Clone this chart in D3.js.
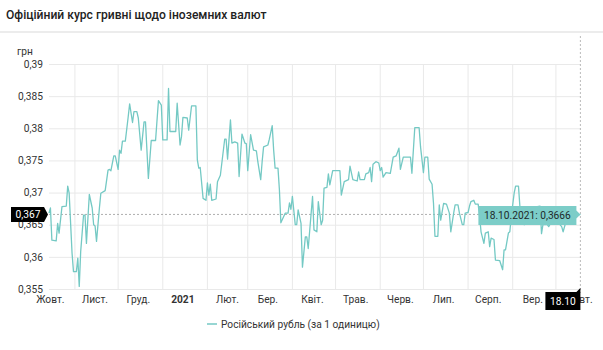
<!DOCTYPE html>
<html>
<head>
<meta charset="utf-8">
<script src="https://cdn.jsdelivr.net/npm/d3@7"></script>
<style>
  body { margin: 0; background: #fff; }
  svg { display: block; font-family: Roboto, "Noto Sans", sans-serif; }
</style>
</head>
<body>
<svg id="chart" width="603" height="350"></svg>
<script>
// Official NBU rate of the hryvnia to the Russian rouble, Oct 2020 – Oct 2021
const chartTitle = "Офіційний курс гривні щодо іноземних валют";
const unitLabel = "грн";
const seriesName = "Російський рубль (за 1 одиницю)";

const dates = [
  "2020-10-14","2020-10-15","2020-10-16","2020-10-19","2020-10-20","2020-10-21","2020-10-23","2020-10-26","2020-10-27","2020-10-28",
  "2020-10-30","2020-10-31","2020-11-02","2020-11-03","2020-11-04","2020-11-05","2020-11-07","2020-11-08","2020-11-09","2020-11-11",
  "2020-11-13","2020-11-14","2020-11-15","2020-11-16","2020-11-18","2020-11-19","2020-11-22","2020-11-24","2020-11-25","2020-11-26",
  "2020-11-28","2020-11-29","2020-12-01","2020-12-02","2020-12-03","2020-12-04","2020-12-06","2020-12-08","2020-12-09","2020-12-11",
  "2020-12-12","2020-12-14","2020-12-15","2020-12-17","2020-12-19","2020-12-20","2020-12-22","2020-12-24","2020-12-27","2020-12-29",
  "2020-12-31","2021-01-01","2021-01-04","2021-01-05","2021-01-06","2021-01-10","2021-01-11","2021-01-13","2021-01-14","2021-01-15",
  "2021-01-18","2021-01-19","2021-01-21","2021-01-24","2021-01-25","2021-01-26","2021-01-27","2021-01-29","2021-01-31","2021-02-01",
  "2021-02-02","2021-02-03","2021-02-04","2021-02-07","2021-02-08","2021-02-10","2021-02-13","2021-02-14","2021-02-15","2021-02-17",
  "2021-02-18","2021-02-20","2021-02-22","2021-02-23","2021-02-25","2021-02-27","2021-02-28","2021-03-01","2021-03-03","2021-03-05",
  "2021-03-07","2021-03-08","2021-03-10","2021-03-11","2021-03-12","2021-03-15","2021-03-16","2021-03-18","2021-03-19","2021-03-20",
  "2021-03-22","2021-03-23","2021-03-24","2021-03-27","2021-03-29","2021-03-30","2021-03-31","2021-04-01","2021-04-03","2021-04-04",
  "2021-04-05","2021-04-07","2021-04-08","2021-04-10","2021-04-11","2021-04-12","2021-04-15","2021-04-16","2021-04-18","2021-04-19",
  "2021-04-21","2021-04-22","2021-04-23","2021-04-25","2021-04-26","2021-04-27","2021-04-29","2021-05-04","2021-05-05","2021-05-07",
  "2021-05-10","2021-05-11","2021-05-13","2021-05-16","2021-05-17","2021-05-18","2021-05-21","2021-05-22","2021-05-24","2021-05-25",
  "2021-05-26","2021-05-27","2021-05-29","2021-05-31","2021-06-01","2021-06-02","2021-06-03","2021-06-05","2021-06-08","2021-06-10",
  "2021-06-12","2021-06-14","2021-06-15","2021-06-17","2021-06-22","2021-06-23","2021-06-25","2021-06-28","2021-06-29","2021-07-01",
  "2021-07-02","2021-07-04","2021-07-05","2021-07-07","2021-07-08","2021-07-09","2021-07-11","2021-07-12","2021-07-13","2021-07-15",
  "2021-07-17","2021-07-19","2021-07-20","2021-07-22","2021-07-23","2021-07-25","2021-07-26","2021-07-28","2021-07-29","2021-07-30",
  "2021-08-01","2021-08-02","2021-08-03","2021-08-05","2021-08-06","2021-08-08","2021-08-09","2021-08-10","2021-08-12","2021-08-13",
  "2021-08-15","2021-08-16","2021-08-17","2021-08-19","2021-08-20","2021-08-23","2021-08-25","2021-08-26","2021-08-27","2021-08-29",
  "2021-08-30","2021-08-31","2021-09-02","2021-09-03","2021-09-05","2021-09-06","2021-09-09","2021-09-11","2021-09-13","2021-09-15",
  "2021-09-18","2021-09-20","2021-09-21","2021-09-22","2021-09-25","2021-09-26","2021-09-28","2021-10-01","2021-10-03","2021-10-05",
  "2021-10-06","2021-10-08","2021-10-10","2021-10-12","2021-10-18"
];

const rates = [
  0.3668,0.3676,0.3626,0.3625,0.3652,0.3637,0.3678,0.3679,0.3710,0.3699,
  0.3606,0.3577,0.3577,0.3598,0.3554,0.3608,0.3665,0.3665,0.3621,0.3697,
  0.3676,0.3650,0.3648,0.3624,0.3676,0.3699,0.3703,0.3735,0.3736,0.3734,
  0.3757,0.3757,0.3736,0.3766,0.3761,0.3780,0.3780,0.3818,0.3838,0.3809,
  0.3826,0.3826,0.3816,0.3766,0.3810,0.3810,0.3722,0.3781,0.3781,0.3843,
  0.3836,0.3782,0.3782,0.3862,0.3795,0.3795,0.3839,0.3774,0.3787,0.3817,
  0.3816,0.3797,0.3835,0.3835,0.3751,0.3738,0.3739,0.3691,0.3688,0.3715,
  0.3696,0.3713,0.3688,0.3690,0.3717,0.3727,0.3783,0.3783,0.3752,0.3813,
  0.3777,0.3779,0.3777,0.3725,0.3791,0.3777,0.3776,0.3734,0.3790,0.3766,
  0.3765,0.3748,0.3720,0.3748,0.3771,0.3774,0.3783,0.3804,0.3766,0.3738,
  0.3738,0.3704,0.3653,0.3668,0.3668,0.3684,0.3674,0.3694,0.3650,0.3650,
  0.3673,0.3652,0.3584,0.3631,0.3631,0.3613,0.3694,0.3642,0.3639,0.3686,
  0.3650,0.3657,0.3707,0.3708,0.3729,0.3712,0.3734,0.3734,0.3696,0.3717,
  0.3720,0.3741,0.3720,0.3718,0.3732,0.3720,0.3720,0.3729,0.3731,0.3739,
  0.3717,0.3744,0.3748,0.3746,0.3734,0.3739,0.3724,0.3731,0.3730,0.3755,
  0.3757,0.3769,0.3736,0.3755,0.3755,0.3730,0.3801,0.3801,0.3771,0.3731,
  0.3755,0.3755,0.3721,0.3713,0.3683,0.3632,0.3632,0.3681,0.3657,0.3683,
  0.3682,0.3668,0.3639,0.3668,0.3681,0.3681,0.3668,0.3650,0.3650,0.3668,
  0.3669,0.3679,0.3686,0.3688,0.3682,0.3682,0.3663,0.3639,0.3621,0.3637,
  0.3639,0.3616,0.3629,0.3627,0.3595,0.3594,0.3580,0.3611,0.3611,0.3637,
  0.3639,0.3663,0.3699,0.3710,0.3710,0.3678,0.3650,0.3663,0.3668,0.3671,
  0.3678,0.3679,0.3636,0.3650,0.3650,0.3647,0.3655,0.3657,0.3652,0.3647,
  0.3639,0.3655,0.3660,0.3662,0.3666
];

const yTicks = [0.355, 0.36, 0.365, 0.37, 0.375, 0.38, 0.385, 0.39];
const monthStarts = ["2020-10-01","2020-11-01","2020-12-01","2021-01-01","2021-02-01","2021-03-01",
                     "2021-04-01","2021-05-01","2021-06-01","2021-07-01","2021-08-01","2021-09-01","2021-10-01"];
const monthLabels = ["Жовт.","Лист.","Груд.","2021","Лют.","Бер.","Квіт.","Трав.","Черв.","Лип.","Серп.","Вер.","Жовт."];
const yearLabels = ["2021"];

const parse = d3.utcParse("%Y-%m-%d");
const data = dates.map((d, i) => ({ date: parse(d), value: rates[i] }));
const last = data[data.length - 1];

const uaLocale = d3.formatLocale({ decimal: ",", thousands: " ", grouping: [3], currency: ["", " грн"] });
const fmtTick = uaLocale.format(".3~f");
const fmtBadge = uaLocale.format(".3f");
const fmtValue = uaLocale.format(".4f");
const fmtDay = d3.utcFormat("%d.%m");
const fmtFull = d3.utcFormat("%d.%m.%Y");

const svg = d3.select("#chart");
const plot = { left: 49, right: 580.4, top: 64, bottom: 289 };

const x = d3.scaleUtc()
  .domain([data[0].date, last.date])
  .range([plot.left, plot.right]);
const y = d3.scaleLinear()
  .domain([0.355, 0.39])
  .range([plot.bottom, plot.top]);

const lineColor = "#74c9c4";
const textColor = "#333";
const fs = 10.2;

// header
svg.append("text")
  .attr("x", 6).attr("y", 19)
  .attr("font-size", 12.1).attr("font-weight", 500).attr("fill", "#222")
  .text(chartTitle);
svg.append("rect")
  .attr("x", 0).attr("y", 31).attr("width", 603).attr("height", 2)
  .attr("fill", "#ececec");

// unit label
svg.append("text")
  .attr("x", 17).attr("y", 55)
  .attr("font-size", fs).attr("fill", textColor)
  .text(unitLabel);

// horizontal grid + y labels
const yAxis = d3.axisLeft(y).tickValues(yTicks).tickFormat(fmtTick)
  .tickSize(-(plot.right - plot.left)).tickPadding(6);
const gy = svg.append("g").attr("transform", `translate(${plot.left},0)`).call(yAxis);
gy.select(".domain").remove();
gy.selectAll(".tick line").attr("stroke", "#e9e9e9");
gy.selectAll(".tick text").attr("font-size", fs).attr("fill", textColor)
  .attr("font-family", "Roboto, sans-serif");

// vertical grid at month starts
const monthDates = monthStarts.map(parse);
const gridDates = monthDates.filter(d => d > data[0].date && d < last.date);
svg.append("g").selectAll("line").data(gridDates).join("line")
  .attr("x1", d => x(d)).attr("x2", d => x(d))
  .attr("y1", plot.top).attr("y2", plot.bottom)
  .attr("stroke", "#e9e9e9");

// month labels centred in mid-month
const labelDates = monthDates.map(d => d3.utcDay.offset(d, 15));
svg.append("g").selectAll("text").data(monthLabels).join("text")
  .attr("x", (d, i) => x(labelDates[i]) - (i === monthLabels.length - 1 ? -1 : 1.5))
  .attr("y", 303)
  .attr("text-anchor", "middle")
  .attr("font-size", fs)
  .attr("font-weight", d => yearLabels.includes(d) ? 700 : 400)
  .attr("fill", textColor)
  .text(d => d);

// crosshair at latest value
svg.append("line")
  .attr("x1", plot.left).attr("x2", x(last.date))
  .attr("y1", y(last.value)).attr("y2", y(last.value))
  .attr("stroke", "#999").attr("stroke-width", 0.8).attr("stroke-dasharray", "2,2");
svg.append("line")
  .attr("x1", x(last.date)).attr("x2", x(last.date))
  .attr("y1", 36).attr("y2", plot.bottom + 4)
  .attr("stroke", "#aaa").attr("stroke-width", 0.8).attr("stroke-dasharray", "2,2");

// series line
const line = d3.line().x(d => x(d.date)).y(d => y(d.value));
svg.append("path").datum(data)
  .attr("d", line)
  .attr("fill", "none")
  .attr("stroke", lineColor)
  .attr("stroke-width", 1.3)
  .attr("stroke-linejoin", "round");

// tooltip
const ty = y(last.value);
const tx = x(last.date);
const tip = svg.append("g");
tip.append("path")
  .attr("d", `M${tx - 102},${ty - 8.5} H${tx - 4} V${ty - 4} L${tx},${ty} L${tx - 4},${ty + 4} V${ty + 10.5} H${tx - 102} Z`)
  .attr("fill", "#7ccdc8");
tip.append("text")
  .attr("x", tx - 53).attr("y", ty + 5)
  .attr("text-anchor", "middle").attr("font-size", fs).attr("fill", "#1e2a2a")
  .text(`${fmtFull(last.date)}: ${fmtValue(last.value)}`);

// y badge
const yb = svg.append("g");
yb.append("path")
  .attr("d", `M11,${ty - 7.5} H44 L48,${ty} L44,${ty + 7.5} H11 Z`)
  .attr("fill", "#000");
yb.append("text")
  .attr("x", 28).attr("y", ty + 4)
  .attr("text-anchor", "middle").attr("font-size", fs).attr("fill", "#fff")
  .text(fmtBadge(last.value));

// x badge
const xb = svg.append("g");
xb.append("path")
  .attr("d", `M${tx - 35},292 H${tx - 4} L${tx},288 V310 H${tx - 35} Z`)
  .attr("fill", "#000");
xb.append("text")
  .attr("x", tx - 17.5).attr("y", 304.5)
  .attr("text-anchor", "middle").attr("font-size", fs).attr("fill", "#fff")
  .text(fmtDay(last.date));

// legend
svg.append("line")
  .attr("x1", 207).attr("x2", 217).attr("y1", 324).attr("y2", 324)
  .attr("stroke", lineColor).attr("stroke-width", 1.5);
svg.append("text")
  .attr("x", 221).attr("y", 327.5)
  .attr("font-size", fs).attr("fill", textColor)
  .text(seriesName);
</script>
</body>
</html>
